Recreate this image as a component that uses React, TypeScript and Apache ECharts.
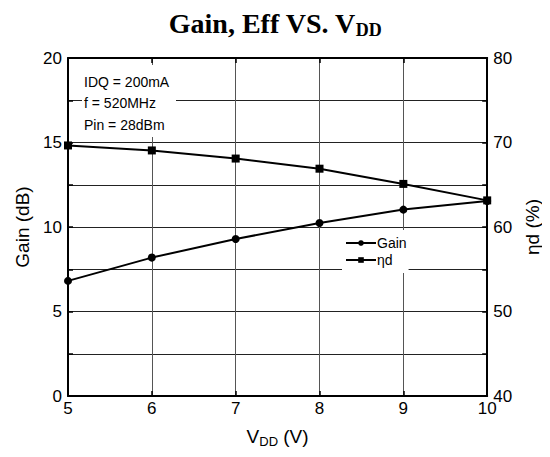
import React, { useEffect, useRef } from "react";
import * as echarts from "echarts";

const vdd = [5, 6, 7, 8, 9, 10];
const gainDb = [6.81, 8.19, 9.29, 10.24, 11.03, 11.54];
const effPct = [69.65, 69.06, 68.1, 66.9, 65.1, 63.15];
const conditions = ["IDQ = 200mA", "f = 520MHz", "Pin = 28dBm"];
const gainTicks = [0, 5, 10, 15, 20];
const effTicks = [40, 50, 60, 70, 80];

const SANS = "'Liberation Sans', Arial, sans-serif";
const SERIF = "'Liberation Serif', 'Times New Roman', serif";

export default function App() {
  const ref = useRef<HTMLDivElement>(null);
  useEffect(() => {
    if (!ref.current) return;
    const chart = echarts.init(ref.current, undefined, { renderer: "svg" });
    const axisLine = { show: true, lineStyle: { color: "#000", width: 2 } };
    const tick = { show: true, inside: true, length: 5, lineStyle: { color: "#000", width: 1.5 } };
    chart.setOption({
      animation: false,
      backgroundColor: "#fff",
      title: {
        text: "{a|Gain, Eff VS. V}{b|DD}",
        left: "center",
        top: 7,
        padding: 0,
        textStyle: {
          rich: {
            a: { fontFamily: SERIF, fontWeight: "bold", fontSize: 28, color: "#000", lineHeight: 32, verticalAlign: "middle" },
            b: { fontFamily: SERIF, fontWeight: "bold", fontSize: 18, color: "#000", lineHeight: 18, verticalAlign: "bottom" },
          },
        },
      },
      grid: { left: 68, right: 59, top: 58, bottom: 61 },
      xAxis: [
        {
          type: "value",
          min: 5,
          max: 10,
          interval: 1,
          position: "bottom",
          axisLine,
          axisTick: tick,
          axisLabel: { color: "#000", fontFamily: SANS, fontSize: 17, margin: 4 },
          splitLine: { show: true, lineStyle: { color: "#555", width: 1 } },
          name: "{a|V}{b|DD}{a| (V)}",
          nameLocation: "middle",
          nameGap: 28,
          nameTextStyle: {
            rich: {
              a: { fontFamily: SANS, fontSize: 19, color: "#000", lineHeight: 24, verticalAlign: "middle" },
              b: { fontFamily: SANS, fontSize: 13, color: "#000", lineHeight: 13, verticalAlign: "bottom" },
            },
          },
        },
        {
          type: "value",
          min: 5,
          max: 10,
          interval: 1,
          position: "top",
          axisLine,
          axisTick: tick,
          axisLabel: { show: false },
          splitLine: { show: false },
        },
      ],
      yAxis: [
        {
          type: "value",
          min: 0,
          max: 20,
          interval: 2.5,
          position: "left",
          axisLine,
          axisTick: tick,
          axisLabel: {
            color: "#000",
            fontFamily: SANS,
            fontSize: 17,
            margin: 6,
            formatter: (v: number) => (gainTicks.includes(v) ? String(v) : ""),
          },
          splitLine: { show: true, lineStyle: { color: "#222", width: 1 } },
          name: "Gain (dB)",
          nameLocation: "middle",
          nameRotate: 90,
          nameGap: 35,
          nameTextStyle: { fontFamily: SANS, fontSize: 19, color: "#000" },
        },
        {
          type: "value",
          min: 40,
          max: 80,
          interval: 5,
          position: "right",
          axisLine,
          axisTick: tick,
          axisLabel: {
            color: "#000",
            fontFamily: SANS,
            fontSize: 17,
            margin: 6,
            formatter: (v: number) => (effTicks.includes(v) ? String(v) : ""),
          },
          splitLine: { show: false },
          name: "ηd (%)",
          nameLocation: "middle",
          nameRotate: 90,
          nameGap: 34,
          nameTextStyle: { fontFamily: SANS, fontSize: 19, color: "#000" },
        },
      ],
      legend: {
        orient: "vertical",
        left: 342,
        top: 230,
        itemWidth: 30,
        itemHeight: 7,
        itemGap: 3,
        padding: [6, 2, 6, 3],
        backgroundColor: "#fff",
        z: 10,
        textStyle: { fontFamily: SANS, fontSize: 14, lineHeight: 14, color: "#000", padding: [0, 0, 0, -4] },
        data: ["Gain", "ηd"],
      },
      graphic: [
        {
          type: "group",
          left: 82,
          top: 65,
          z: 10,
          children: [
            { type: "rect", z: 10, shape: { x: 0, y: 0, width: 94, height: 72 }, style: { fill: "#fff" } },
            ...conditions.map((t, i) => ({
              type: "text",
              z: 11,
              x: 2,
              y: 16.7 + i * 21.7,
              style: { text: t, fontFamily: SANS, fontSize: 14, fill: "#000", verticalAlign: "middle" },
            })),
          ],
        },
      ],
      series: [
        {
          name: "Gain",
          type: "line",
          xAxisIndex: 0,
          yAxisIndex: 0,
          data: vdd.map((x, i) => [x, gainDb[i]]),
          symbol: "circle",
          symbolSize: 8,
          lineStyle: { color: "#000", width: 2 },
          itemStyle: { color: "#000" },
          z: 5,
        },
        {
          name: "ηd",
          type: "line",
          xAxisIndex: 0,
          yAxisIndex: 1,
          data: vdd.map((x, i) => [x, effPct[i]]),
          symbol: "rect",
          symbolSize: 8,
          lineStyle: { color: "#000", width: 2 },
          itemStyle: { color: "#000" },
          z: 5,
        },
      ],
    });
    return () => chart.dispose();
  }, []);
  return <div ref={ref} style={{ width: 550, height: 457, margin: -8 }} />;
}
